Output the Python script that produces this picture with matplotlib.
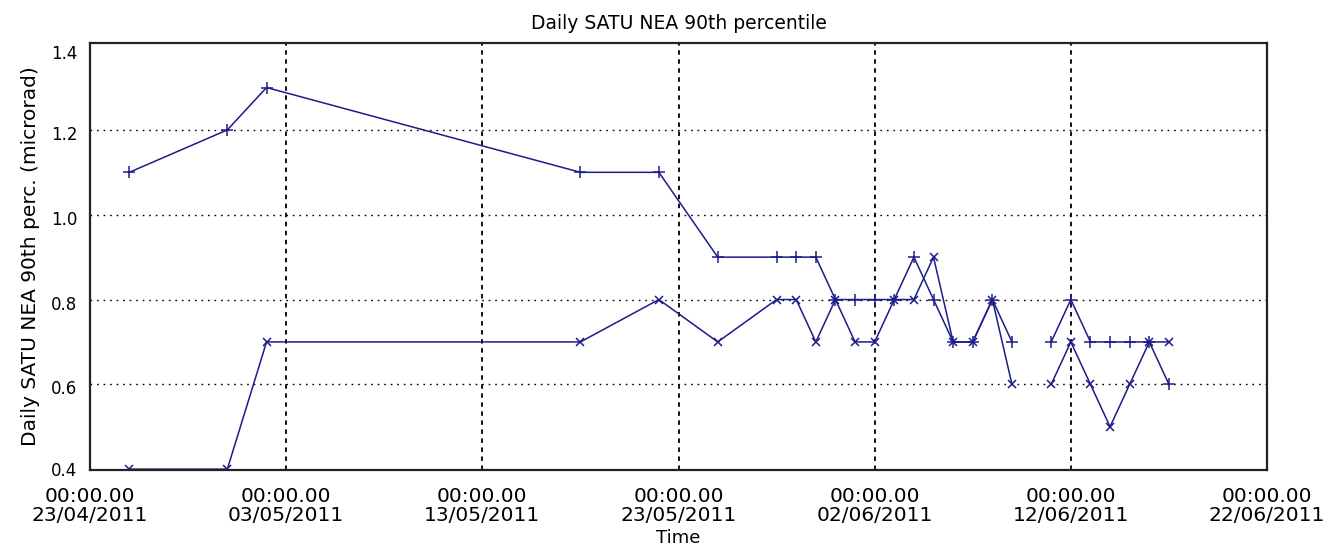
import matplotlib
matplotlib.use("Agg")
import matplotlib.pyplot as plt
import matplotlib.transforms as mtransforms
import numpy as np
import datetime as dt

# Data: day offsets from 23/04/2011 and values (NaN = gap)
start = dt.datetime(2011, 4, 23)
days = [2, 7, 9, 25, 29, 32, 35, 36, 37, 38, 39, 40, 41, 42, 43, 44, 45, 46, 47,
        48, 49, 50, 51, 52, 53, 54, 55]
series_plus = [1.1, 1.2, 1.3, 1.1, 1.1, 0.9, 0.9, 0.9, 0.9, 0.8, 0.8, 0.8, 0.8,
               0.9, 0.8, 0.7, 0.7, 0.8, 0.7, np.nan, 0.7, 0.8, 0.7, 0.7, 0.7, 0.7, 0.6]
series_x = [0.4, 0.4, 0.7, 0.7, 0.8, 0.7, 0.8, 0.8, 0.7, 0.8, 0.7, 0.7, 0.8,
            0.8, 0.9, 0.7, 0.7, 0.8, 0.6, np.nan, 0.6, 0.7, 0.6, 0.5, 0.6, 0.7, 0.7]
tick_dates = ["23/04/2011", "03/05/2011", "13/05/2011", "23/05/2011",
              "02/06/2011", "12/06/2011", "22/06/2011"]
y_ticks = [0.4, 0.6, 0.8, 1.0, 1.2, 1.4]

dates = [start + dt.timedelta(days=d) for d in days]
tick_dt = [dt.datetime.strptime(s, "%d/%m/%Y") for s in tick_dates]

W, H = 1337, 551
fig = plt.figure(figsize=(W / 100, H / 100), dpi=100)
ax = fig.add_axes([90 / W, 1 - 470 / H, (1267 - 90) / W, (470 - 43) / H])

col = "#1c1c8a"
ax.plot(dates, series_plus, color=col, lw=1.1, marker="+", ms=8, mew=1.1)
ax.plot(dates, series_x, color=col, lw=1.1, marker="x", ms=6, mew=1.1)

ax.set_xlim(tick_dt[0], tick_dt[-1])
ax.set_ylim(0.398, 1.405)
ax.set_xticks(tick_dt)
ax.set_xticklabels(["00:00.00\n" + s for s in tick_dates], fontsize=14.5, linespacing=1.0)
ax.set_yticks(y_ticks)
ax.set_yticklabels([f"{v:.1f}" for v in y_ticks], fontsize=12)
ax.tick_params(axis="both", length=0, colors="black")
ax.tick_params(axis="x", pad=12)
ax.tick_params(axis="y", pad=9)

shift = mtransforms.ScaledTranslation(0, -3 / 100, fig.dpi_scale_trans)
for lab, v in zip(ax.get_yticklabels(), y_ticks):
    if v == 1.4:
        lab.set_va("top")
    elif v != 0.4:
        lab.set_transform(lab.get_transform() + shift)

for v in y_ticks[1:-1]:
    ax.axhline(v, color="black", lw=1.0, ls=(0, (1.2, 3.5)), zorder=0)
for d in tick_dt[1:-1]:
    ax.axvline(d, color="black", lw=1.3, ls=(0, (2.5, 2.5)), zorder=0)

for s in ax.spines.values():
    s.set_linewidth(1.6)
    s.set_color("#222222")

ax.set_title("Daily SATU NEA 90th percentile", fontsize=13.5, pad=10)
ax.set_xlabel("Time", fontsize=13, labelpad=3)
ax.set_ylabel("Daily SATU NEA 90th perc. (microrad)", fontsize=14.5, labelpad=8)

fig.savefig("out.png", dpi=100)
